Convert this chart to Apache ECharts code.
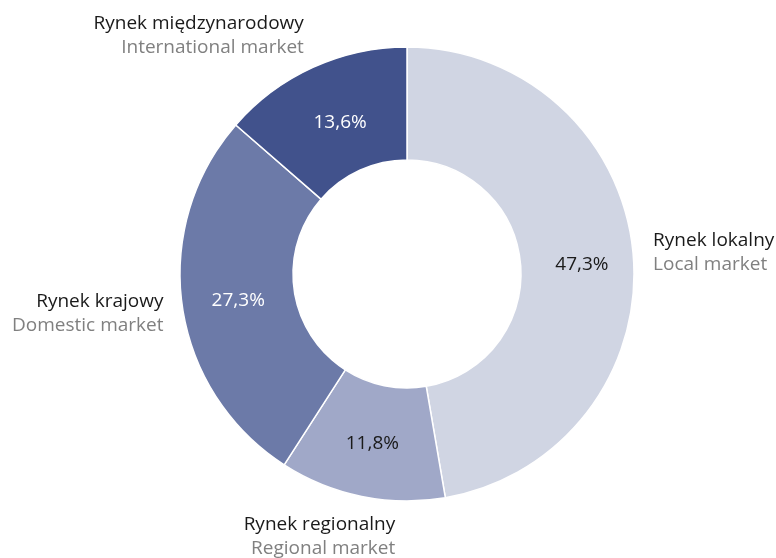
<!DOCTYPE html>
<html>
<head>
<meta charset="utf-8">
<script src="https://cdn.jsdelivr.net/npm/echarts@6/dist/echarts.min.js"></script>
<style>
  html, body { margin: 0; padding: 0; background: #fff; }
  #chart { width: 776px; height: 558px; }
</style>
</head>
<body>
<div id="chart"></div>
<script>
// dane
const namesPl = ['Rynek lokalny', 'Rynek regionalny', 'Rynek krajowy', 'Rynek międzynarodowy']
const namesEn = ['Local market', 'Regional market', 'Domestic market', 'International market']
const shares = [47.3, 11.8, 27.3, 13.6]
const colors = ['#d0d5e3', '#a0a8c8', '#6c7aa8', '#41528c']
const pctColors = ['#1a1a1a', '#1a1a1a', '#ffffff', '#ffffff']

const font = '"Open Sans", sans-serif'
const fmt = (v) => v.toFixed(1).replace('.', ',') + '%'

const chart = echarts.init(document.getElementById('chart'))

// przesunięcia etykiet zewnętrznych
const labelShift = [
  { dx: -2, dy: 0 },
  { dx: 38, dy: 19 },
  { dx: 3, dy: 5 },
  { dx: 0, dy: -12 }
]
// przesunięcia etykiet procentowych
const pctShift = [
  { dx: 2, dy: 5 },
  { dx: 0, dy: 0 },
  { dx: 3, dy: 2 },
  { dx: 5, dy: 6 }
]

const option = {
  animation: false,
  series: [
    {
      type: 'pie',
      center: [407, 274],
      radius: [114, 227],
      startAngle: 90,
      clockwise: true,
      avoidLabelOverlap: false,
      itemStyle: { borderColor: '#fff', borderWidth: 1.5 },
      label: {
        show: true,
        position: 'inside',
        fontFamily: font,
        fontSize: 19,
        formatter: (p) => fmt(p.value)
      },
      labelLine: { show: false },
      labelLayout: (p) => pctShift[p.dataIndex],
      data: shares.map((v, i) => ({
        value: v,
        name: namesPl[i],
        itemStyle: { color: colors[i] },
        label: { color: pctColors[i] }
      }))
    },
    {
      type: 'pie',
      center: [407, 274],
      radius: [114, 227],
      startAngle: 90,
      clockwise: true,
      silent: true,
      avoidLabelOverlap: false,
      itemStyle: { color: 'rgba(0,0,0,0)' },
      label: {
        show: true,
        position: 'outside',
        distanceToLabelLine: 0,
        formatter: (p) => `{a|${namesPl[p.dataIndex]}}\n{b|${namesEn[p.dataIndex]}}`,
        rich: {
          a: { fontFamily: font, fontSize: 19, color: '#1a1a1a', lineHeight: 24 },
          b: { fontFamily: font, fontSize: 19, color: '#808080', lineHeight: 24 }
        }
      },
      labelLine: { show: false, length: 22, length2: 0 },
      labelLayout: (p) => labelShift[p.dataIndex],
      data: shares.map((v, i) => ({ value: v, name: namesPl[i] }))
    }
  ]
}

chart.setOption(option)
window.addEventListener('resize', () => {
  chart.resize()
})
</script>
</body>
</html>
